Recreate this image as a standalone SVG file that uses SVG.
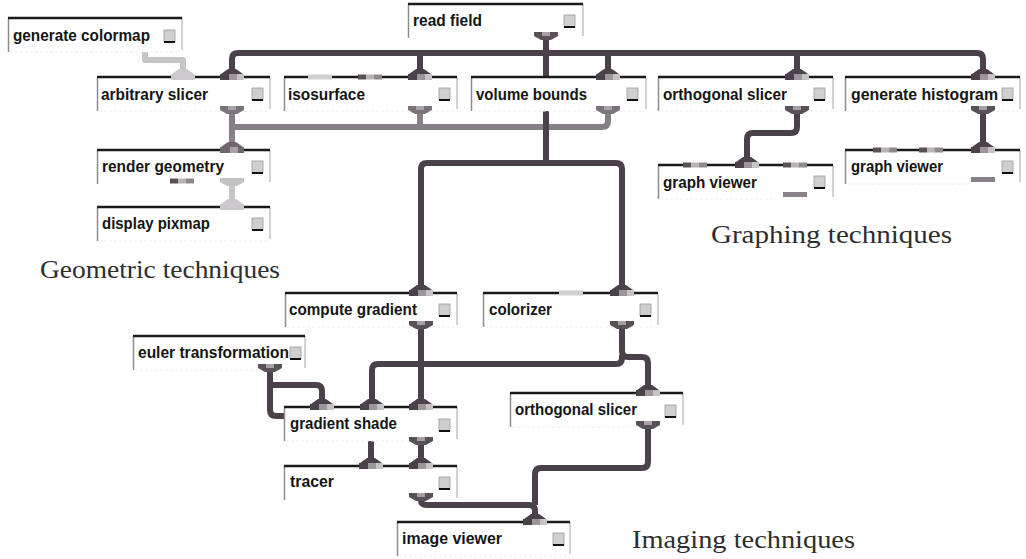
<svg xmlns="http://www.w3.org/2000/svg" xmlns:xlink="http://www.w3.org/1999/xlink" width="1026" height="559" viewBox="0 0 1026 559">
<style>
.bg{fill:#ffffff}
.tl{stroke:#1c1a1c;stroke-width:2.5;fill:none}
.sl{stroke:#8c8c8c;stroke-width:1.5;fill:none}
.sr{stroke:#b4b4b4;stroke-width:1.2;fill:none}
.sb{stroke:#eeeeee;stroke-width:1;fill:none;stroke-dasharray:3 2}
.lbl{font-family:"Liberation Sans Narrow","Liberation Sans",Arial,sans-serif;font-weight:bold;font-size:16.5px;fill:#151515}
.cap{font-family:"Liberation Serif","DejaVu Serif",serif;font-size:25px;fill:#2e2e2e}
.btn{fill:#cfcfcf;stroke:#9a9a9a;stroke-width:0.8}
.btnl{stroke:#111;stroke-width:2}
.wd{fill:none;stroke:#4b414a;stroke-width:6;stroke-linejoin:round}
.wg{fill:none;stroke:#858085;stroke-width:6;stroke-linejoin:round}
.wl{fill:none;stroke:#c6c4c6;stroke-width:6;stroke-linejoin:round}
</style>
<defs>
<g id="inD">
<path d="M-4,-8 H4 L11,-3 H-11 Z" fill="#4b414a"/>
<rect x="-12" y="-3" width="9" height="6" fill="#4b414a"/>
<rect x="-3" y="-3" width="8" height="6" fill="#9b969a"/>
<rect x="5" y="-3" width="7" height="6" fill="#c6c3c5"/>
</g>
<g id="inG">
<path d="M-4,-8 H4 L11,-3 H-11 Z" fill="#6e666c"/>
<rect x="-12" y="-3" width="24" height="6" fill="#6e666c"/>
<rect x="-2" y="-3" width="8" height="6" fill="#a6a2a5"/>
</g>
<g id="inL">
<path d="M-4,-8 H4 L11,-3 H-11 Z" fill="#cbc9cb"/>
<rect x="-12" y="-3" width="24" height="6" fill="#cbc9cb"/>
</g>
<g id="mix">
<rect x="-12" y="-2.5" width="8" height="5" fill="#5a5058"/>
<rect x="-4" y="-2.5" width="8" height="5" fill="#b6b4b6"/>
<rect x="4" y="-2.5" width="8" height="5" fill="#8e888d"/>
</g>
<g id="light">
<rect x="-12" y="-2.5" width="24" height="5" fill="#d2d0d2"/>
</g>
<g id="outD">
<rect x="-12" y="0" width="24" height="4" fill="#5a5058"/>
<rect x="-4" y="0" width="8" height="4" fill="#a4a0a3"/>
<path d="M-12,4 H12 L5,8 H-5 Z" fill="#5a5058"/>
</g>
<g id="outG">
<rect x="-12" y="0" width="24" height="4" fill="#7a747a"/>
<rect x="-4" y="0" width="8" height="4" fill="#a8a4a8"/>
<path d="M-12,4 H12 L5,8 H-5 Z" fill="#7a747a"/>
</g>
<g id="outL">
<rect x="-12" y="0" width="24" height="4" fill="#c4c2c4"/>
<path d="M-12,4 H12 L5,8 H-5 Z" fill="#c4c2c4"/>
</g>
<g id="bar">
<rect x="-12" y="0" width="24" height="5" fill="#8a8288"/>
</g>
</defs>
<rect x="0" y="0" width="1026" height="559" fill="#ffffff"/>

<g id="connectors">
<path class="wd" d="M232,77 V59 Q232,53 238,53 H977 Q983,53 983,59 V77"/>
<path class="wd" d="M420,53 V77 M608,53 V77 M797,53 V77 M546,40 V163"/>
<path class="wg" d="M232,110 V127 H602 Q608,127 608,121 V110 M420,110 V127 M232,127 V150"/>
<path class="wd" d="M546,110 V163"/>
<path class="wl" d="M145,48 V60 H183 V77"/>
<path class="wl" d="M232,186 V207"/>
<path class="wd" d="M421,293 V169 Q421,163 427,163 H616 Q622,163 622,169 V293"/>
<path class="wd" d="M797,111 V127 Q797,133 791,133 H753 Q747,133 747,139 V165"/>
<path class="wd" d="M983,111 V150"/>
<path class="wd" d="M421,328 V407"/>
<path class="wd" d="M622,328 V351 Q622,357 628,357 H642 Q648,357 648,363 V393"/>
<path class="wd" d="M622,355 V358 Q622,364 616,364 H378 Q372,364 372,370 V407"/>
<path class="wd" d="M270,372 V410 Q270,416 276,416 H287 M270,385 H316 Q322,385 322,391 V407"/>
<path class="wd" d="M371,407 V466 M421,445 V466"/>
<path class="wd" d="M421,500 Q421,505 427,505 H529 Q535,505 535,511 V522"/>
<path class="wd" d="M648,428 V462 Q648,468 642,468 H541 Q535,468 535,474 V505"/>
</g>

<g id="generate-colormap">
<rect class="bg" x="8" y="18" width="174" height="34"/>
<path class="sl" d="M8.5,18 V52"/><path class="sr" d="M182,18 V50"/><path class="sb" d="M10,52 H180"/>
<path class="tl" d="M8,18 H182"/>
<text class="lbl" x="13" y="41" textLength="137" lengthAdjust="spacingAndGlyphs">generate colormap</text>
<rect class="btn" x="164" y="30" width="11" height="12"/><path class="btnl" d="M164,42 H175"/>
</g>

<g id="read-field">
<rect class="bg" x="408" y="4" width="175" height="34"/>
<path class="sl" d="M408.5,4 V38"/><path class="sr" d="M583,4 V36"/>
<path class="tl" d="M408,4 H583"/>
<text class="lbl" x="413" y="26" textLength="69" lengthAdjust="spacingAndGlyphs">read field</text>
<rect class="btn" x="564" y="15" width="11" height="12"/><path class="btnl" d="M564,27 H575"/>
<use href="#outD" x="546" y="32"/>
</g>

<g id="arbitrary-slicer">
<rect class="bg" x="97" y="77" width="173" height="34"/>
<path class="sl" d="M97.5,77 V111"/><path class="sr" d="M270,77 V109"/><path class="sb" d="M99,111 H268"/>
<path class="tl" d="M97,77 H270"/>
<text class="lbl" x="101" y="100" textLength="107" lengthAdjust="spacingAndGlyphs">arbitrary slicer</text>
<rect class="btn" x="252" y="88" width="11" height="12"/><path class="btnl" d="M252,100 H263"/>
<use href="#inL" x="183" y="77"/>
<use href="#inD" x="232" y="77"/>
<use href="#outG" x="232" y="106"/>
</g>

<g id="isosurface">
<rect class="bg" x="284" y="77" width="173" height="34"/>
<path class="sl" d="M284.5,77 V111"/><path class="sr" d="M457,77 V109"/><path class="sb" d="M286,111 H455"/>
<path class="tl" d="M284,77 H457"/>
<text class="lbl" x="288" y="100" textLength="77" lengthAdjust="spacingAndGlyphs">isosurface</text>
<rect class="btn" x="439" y="88" width="11" height="12"/><path class="btnl" d="M439,100 H450"/>
<use href="#light" x="320" y="77"/>
<use href="#mix" x="370" y="77"/>
<use href="#inD" x="420" y="77"/>
<use href="#outG" x="420" y="106"/>
</g>

<g id="volume-bounds">
<rect class="bg" x="471" y="77" width="175" height="34"/>
<path class="sl" d="M471.5,77 V111"/><path class="sr" d="M646,77 V109"/><path class="sb" d="M473,111 H644"/>
<path class="tl" d="M471,77 H646"/>
<text class="lbl" x="476" y="100" textLength="111" lengthAdjust="spacingAndGlyphs">volume bounds</text>
<rect class="btn" x="627" y="88" width="11" height="12"/><path class="btnl" d="M627,100 H638"/>
<use href="#inD" x="608" y="77"/>
<use href="#outG" x="608" y="106"/>
</g>

<g id="orthogonal-slicer-1">
<rect class="bg" x="658" y="77" width="175" height="34"/>
<path class="sl" d="M658.5,77 V111"/><path class="sr" d="M833,77 V109"/><path class="sb" d="M660,111 H831"/>
<path class="tl" d="M658,77 H833"/>
<text class="lbl" x="663" y="100" textLength="124" lengthAdjust="spacingAndGlyphs">orthogonal slicer</text>
<rect class="btn" x="814" y="88" width="11" height="12"/><path class="btnl" d="M814,100 H825"/>
<use href="#inD" x="797" y="77"/>
<use href="#outD" x="797" y="106"/>
</g>

<g id="generate-histogram">
<rect class="bg" x="845" y="77" width="175" height="34"/>
<path class="sl" d="M845.5,77 V111"/><path class="sr" d="M1020,77 V109"/><path class="sb" d="M847,111 H1018"/>
<path class="tl" d="M845,77 H1020"/>
<text class="lbl" x="851" y="100" textLength="147" lengthAdjust="spacingAndGlyphs">generate histogram</text>
<rect class="btn" x="1002" y="88" width="11" height="12"/><path class="btnl" d="M1002,100 H1013"/>
<use href="#inD" x="983" y="77"/>
<use href="#outD" x="983" y="106"/>
</g>

<g id="render-geometry">
<rect class="bg" x="97" y="150" width="173" height="34"/>
<path class="sl" d="M97.5,150 V184"/><path class="sr" d="M270,150 V182"/>
<path class="tl" d="M97,150 H270"/>
<text class="lbl" x="102" y="172" textLength="122" lengthAdjust="spacingAndGlyphs">render geometry</text>
<rect class="btn" x="252" y="161" width="11" height="12"/><path class="btnl" d="M252,173 H263"/>
<use href="#inG" x="232" y="150"/>
<use href="#mix" x="182" y="181"/>
<use href="#outL" x="232" y="178"/>
</g>

<g id="display-pixmap">
<rect class="bg" x="97" y="207" width="173" height="34"/>
<path class="sl" d="M97.5,207 V241"/><path class="sr" d="M270,207 V239"/><path class="sb" d="M99,241 H268"/>
<path class="tl" d="M97,207 H270"/>
<text class="lbl" x="102" y="229" textLength="108" lengthAdjust="spacingAndGlyphs">display pixmap</text>
<rect class="btn" x="252" y="218" width="11" height="12"/><path class="btnl" d="M252,230 H263"/>
<use href="#inL" x="232" y="207"/>
</g>

<g id="graph-viewer-1">
<rect class="bg" x="658" y="165" width="175" height="34"/>
<path class="sl" d="M658.5,165 V199"/><path class="sr" d="M833,165 V197"/><path class="sb" d="M660,199 H781"/>
<path class="tl" d="M658,165 H833"/>
<text class="lbl" x="663" y="188" textLength="94" lengthAdjust="spacingAndGlyphs">graph viewer</text>
<rect class="btn" x="814" y="176" width="11" height="12"/><path class="btnl" d="M814,188 H825"/>
<use href="#mix" x="695" y="165"/>
<use href="#inD" x="747" y="165"/>
<use href="#mix" x="795" y="165"/>
<use href="#bar" x="795" y="192"/>
</g>

<g id="graph-viewer-2">
<rect class="bg" x="845" y="150" width="175" height="34"/>
<path class="sl" d="M845.5,150 V184"/><path class="sr" d="M1020,150 V182"/><path class="sb" d="M847,184 H969"/>
<path class="tl" d="M845,150 H1020"/>
<text class="lbl" x="851" y="172" textLength="92" lengthAdjust="spacingAndGlyphs">graph viewer</text>
<rect class="btn" x="1002" y="161" width="11" height="12"/><path class="btnl" d="M1002,173 H1013"/>
<use href="#mix" x="885" y="150"/>
<use href="#mix" x="931" y="150"/>
<use href="#inD" x="983" y="150"/>
<use href="#bar" x="983" y="177"/>
</g>

<g id="compute-gradient">
<rect class="bg" x="285" y="293" width="172" height="34"/>
<path class="sl" d="M285.5,293 V327"/><path class="sr" d="M457,293 V325"/><path class="sb" d="M287,327 H455"/>
<path class="tl" d="M285,293 H457"/>
<text class="lbl" x="289" y="315" textLength="128" lengthAdjust="spacingAndGlyphs">compute gradient</text>
<rect class="btn" x="439" y="304" width="11" height="12"/><path class="btnl" d="M439,316 H450"/>
<use href="#inD" x="421" y="293"/>
<use href="#outD" x="421" y="321"/>
</g>

<g id="colorizer">
<rect class="bg" x="483" y="293" width="175" height="34"/>
<path class="sl" d="M483.5,293 V327"/><path class="sr" d="M658,293 V325"/><path class="sb" d="M485,327 H656"/>
<path class="tl" d="M483,293 H658"/>
<text class="lbl" x="489" y="315" textLength="63" lengthAdjust="spacingAndGlyphs">colorizer</text>
<rect class="btn" x="640" y="304" width="11" height="12"/><path class="btnl" d="M640,316 H651"/>
<use href="#light" x="571" y="293"/>
<use href="#inD" x="622" y="293"/>
<use href="#outD" x="622" y="321"/>
</g>

<g id="euler-transformation">
<rect class="bg" x="133" y="336" width="172" height="34"/>
<path class="sl" d="M133.5,336 V370"/><path class="sr" d="M305,336 V368"/><path class="sb" d="M135,370 H255"/>
<path class="tl" d="M133,336 H305"/>
<text class="lbl" x="138" y="358" textLength="151" lengthAdjust="spacingAndGlyphs">euler transformation</text>
<rect class="btn" x="290" y="347" width="11" height="12"/><path class="btnl" d="M290,359 H301"/>
<use href="#outD" x="270" y="364"/>
</g>

<g id="gradient-shade">
<rect class="bg" x="284" y="407" width="173" height="34"/>
<path class="sl" d="M284.5,407 V441"/><path class="sr" d="M457,407 V439"/><path class="sb" d="M286,441 H405"/>
<path class="tl" d="M284,407 H457"/>
<text class="lbl" x="290" y="429" textLength="107" lengthAdjust="spacingAndGlyphs">gradient shade</text>
<rect class="btn" x="439" y="419" width="11" height="12"/><path class="btnl" d="M439,431 H450"/>
<use href="#inD" x="322" y="407"/>
<use href="#inD" x="372" y="407"/>
<use href="#inD" x="421" y="407"/>
<use href="#outD" x="421" y="437"/>
</g>

<g id="tracer">
<rect class="bg" x="284" y="466" width="173" height="34"/>
<path class="sl" d="M284.5,466 V500"/><path class="sr" d="M457,466 V498"/>
<path class="tl" d="M284,466 H457"/>
<text class="lbl" x="290" y="487" textLength="44" lengthAdjust="spacingAndGlyphs">tracer</text>
<rect class="btn" x="439" y="477" width="11" height="12"/><path class="btnl" d="M439,489 H450"/>
<use href="#inD" x="371" y="466"/>
<use href="#inD" x="421" y="466"/>
<use href="#outD" x="421" y="493"/>
</g>

<g id="orthogonal-slicer-2">
<rect class="bg" x="510" y="393" width="173" height="34"/>
<path class="sl" d="M510.5,393 V427"/><path class="sr" d="M683,393 V425"/><path class="sb" d="M512,427 H633"/>
<path class="tl" d="M510,393 H683"/>
<text class="lbl" x="515" y="415" textLength="122" lengthAdjust="spacingAndGlyphs">orthogonal slicer</text>
<rect class="btn" x="665" y="405" width="11" height="12"/><path class="btnl" d="M665,417 H676"/>
<use href="#inD" x="648" y="393"/>
<use href="#outD" x="648" y="421"/>
</g>

<g id="image-viewer">
<rect class="bg" x="397" y="522" width="173" height="34"/>
<path class="sl" d="M397.5,522 V556"/><path class="sr" d="M570,522 V554"/><path class="sb" d="M399,556 H568"/>
<path class="tl" d="M397,522 H570"/>
<text class="lbl" x="402" y="544" textLength="100" lengthAdjust="spacingAndGlyphs">image viewer</text>
<rect class="btn" x="553" y="533" width="11" height="12"/><path class="btnl" d="M553,545 H564"/>
<use href="#inD" x="535" y="522"/>
</g>

<g id="captions">
<text class="cap" x="40" y="278" textLength="240" lengthAdjust="spacingAndGlyphs">Geometric techniques</text>
<text class="cap" x="711" y="243" textLength="241" lengthAdjust="spacingAndGlyphs">Graphing techniques</text>
<text class="cap" x="632" y="548" textLength="223" lengthAdjust="spacingAndGlyphs">Imaging techniques</text>
</g>
</svg>
